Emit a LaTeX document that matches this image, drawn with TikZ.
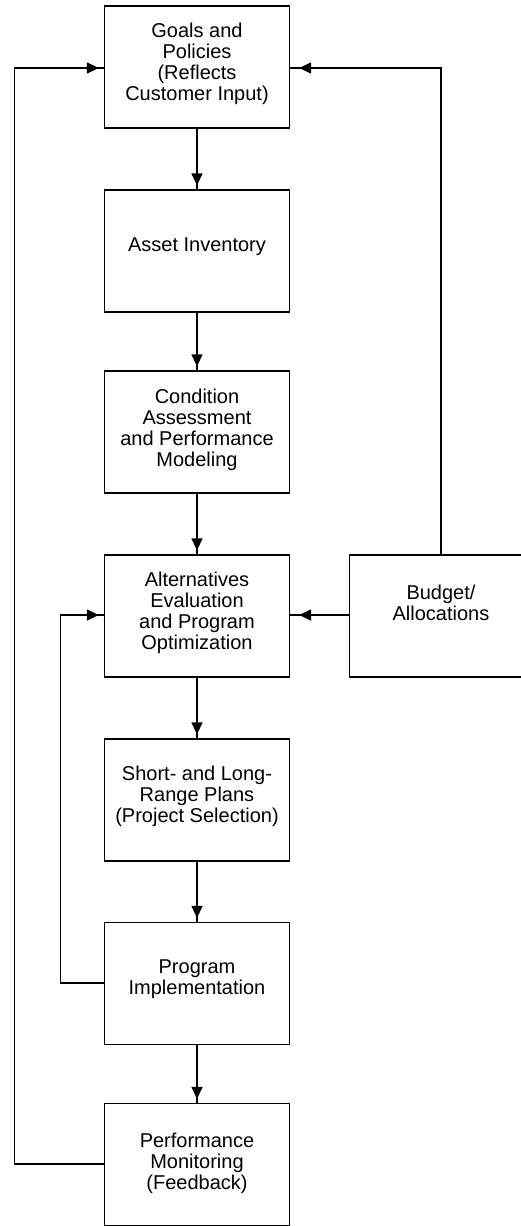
\documentclass[tikz,border=0pt]{standalone}
\usepackage{fontspec}
\setmainfont{Liberation Sans}
\usetikzlibrary{arrows.meta,decorations.markings}
\begin{document}
\begin{tikzpicture}[x=1pt,y=-1pt,
  box/.style={draw,line width=1.2pt,minimum width=185pt,minimum height=122pt,inner sep=0pt},
  txt/.style={align=center,font=\fontsize{20}{21}\selectfont,inner sep=0pt},
  conn/.style={line width=1.2pt},
  tipped/.style={conn,postaction={decorate},decoration={markings,
      mark=at position -#1 with {\arrow{Triangle[length=12pt,width=11pt]}}}},
  tipped/.default=4pt]
\useasboundingbox (0,0) rectangle (521,1226);
\node[box] (goals) at (197,67) {};
\node[txt] (goalst) at (197,63.5) {Goals and\\Policies\\(Reflects\\Customer Input)};
\node[box] (asset) at (197,251) {};
\node[txt] (assett) at (197,247) {Asset Inventory};
\node[box] (cond) at (197,432) {};
\node[txt] (condt) at (197,430) {Condition\\Assessment\\and Performance\\Modeling};
\node[box] (alt) at (197,616) {};
\node[txt] (altt) at (197,612.5) {Alternatives\\Evaluation\\and Program\\Optimization};
\node[box] (plans) at (197,800) {};
\node[txt] (planst) at (197,796) {Short- and Long-\\Range Plans\\(Project Selection)};
\node[box] (impl) at (197,983.5) {};
\node[txt] (implt) at (197,979.5) {Program\\Implementation};
\node[box] (mon) at (197,1164.5) {};
\node[txt] (mont) at (197,1163) {Performance\\Monitoring\\(Feedback)};
\node[box,minimum width=185pt,anchor=west] (budget) at (348.5,616) {};
\node[txt] (budgett) at (441,603) {Budget/\\Allocations};
\coordinate (gl) at (goals.west |- 0,68);
\coordinate (gr) at (goals.east |- 0,68);
\coordinate (al) at (alt.west |- 0,615);
\coordinate (bl) at (budget.west |- 0,615);
\coordinate (ar) at (alt.east |- 0,615);
\coordinate (bt) at (441,0 |- budget.north);
\coordinate (ml) at (mon.west |- 0,1164);
\coordinate (il) at (impl.west |- 0,983);
\draw[tipped] (goals) -- (asset);
\draw[tipped] (asset) -- (cond);
\draw[tipped] (cond) -- (alt);
\draw[tipped] (alt) -- (plans);
\draw[tipped] (plans) -- (impl);
\draw[tipped] (impl) -- (mon);
\draw[tipped=9pt] (bt) -- (441,68) -- (gr);
\draw[tipped=5pt] (ml) -- (14.5,1164) -- (14.5,68) -- (gl);
\draw[tipped=5pt] (il) -- (60.5,983) -- (60.5,615) -- (al);
\draw[tipped=9pt] (bl) -- (ar);
\end{tikzpicture}
\end{document}
